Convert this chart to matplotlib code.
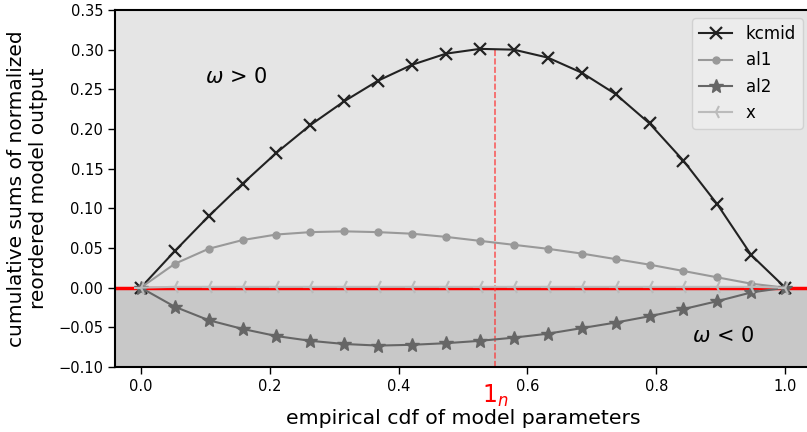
import matplotlib
matplotlib.use("Agg")
import matplotlib.pyplot as plt
import matplotlib.transforms as mtransforms
import numpy as np

# empirical cdf positions (20 points)
cdf = [0.0, 0.0526, 0.1053, 0.1579, 0.2105, 0.2632, 0.3158, 0.3684, 0.4211, 0.4737,
       0.5263, 0.5789, 0.6316, 0.6842, 0.7368, 0.7895, 0.8421, 0.8947, 0.9474, 1.0]

kcmid = [0.0, 0.046, 0.090, 0.131, 0.170, 0.205, 0.235, 0.261, 0.281, 0.295,
         0.301, 0.300, 0.290, 0.271, 0.244, 0.207, 0.160, 0.105, 0.041, 0.0]
al1 = [0.0, 0.030, 0.049, 0.060, 0.067, 0.070, 0.071, 0.070, 0.068, 0.064,
       0.059, 0.054, 0.049, 0.043, 0.036, 0.029, 0.021, 0.013, 0.005, 0.0]
al2 = [0.0, -0.024, -0.041, -0.052, -0.061, -0.067, -0.071, -0.073, -0.072, -0.070,
       -0.067, -0.063, -0.058, -0.051, -0.044, -0.036, -0.027, -0.017, -0.006, 0.0]
xpar = [0.0, 0.001, 0.001, 0.001, 0.001, 0.001, 0.001, 0.001, 0.001, 0.001,
        0.001, 0.001, 0.001, 0.001, 0.001, 0.001, 0.001, 0.001, 0.001, 0.0]

one_n = 0.55  # position of the 1_n marker
yticks = [-0.10, -0.05, 0.00, 0.05, 0.10, 0.15, 0.20, 0.25, 0.30, 0.35]
xticks = [0.0, 0.2, 0.4, 0.6, 0.8, 1.0]

fig = plt.figure(figsize=(8.07, 4.32), dpi=100)
ax = fig.add_axes([115 / 807, 1 - 367 / 432, (811 - 115) / 807, (367 - 10) / 432])

ax.set_xlim(-0.04, 1.04)
ax.set_ylim(-0.10, 0.35)

# shaded regions
ax.axhspan(0, 0.35, color='#e5e5e5', zorder=0)
ax.axhspan(-0.10, 0, color='#c8c8c8', zorder=0)
ax.axhline(0, color='red', lw=2.5, zorder=1)

ax.plot(cdf, kcmid, color='#222222', marker='x', ms=9, mew=1.6, lw=1.5, label='kcmid', zorder=3)
ax.plot(cdf, al1, color='#999999', marker='o', ms=5, lw=1.5, label='al1', zorder=3)
ax.plot(cdf, al2, color='#666666', marker='*', ms=10, lw=1.5, label='al2', zorder=3)
ax.plot(cdf, xpar, color='#bbbbbb', marker='3', ms=10, mew=1.5, lw=1.5, label='x', zorder=3)

ax.plot([one_n, one_n], [-0.10, max(kcmid)], color='#ff3030', alpha=0.8, lw=1.1,
        dashes=(4, 1.5), zorder=2)

ax.text(0.1, 0.265, r'$\omega$ > 0', fontsize=15, va='center')
ax.text(0.855, -0.061, r'$\omega$ < 0', fontsize=15, va='center')

trans = mtransforms.blended_transform_factory(ax.transData, ax.transAxes)
ax.text(one_n, -0.045, r'$1_n$', color='red', fontsize=17, ha='center', va='top', transform=trans)

ax.set_xticks(xticks)
ax.set_yticks(yticks)
ax.set_xticklabels(['%.1f' % t for t in xticks])
ax.set_yticklabels(['%.2f' % t if t >= 0 else '\u22120.%02d' % round(-t * 100) for t in yticks])
ax.tick_params(labelsize=10.5, length=5, width=1)

for side in ['left', 'bottom', 'top']:
    ax.spines[side].set_linewidth(1.5)
ax.spines['right'].set_visible(False)

ax.set_xlabel('empirical cdf of model parameters', fontsize=14.7, labelpad=11)
ax.set_ylabel('cumulative sums of normalized\nreordered model output', fontsize=14.5, labelpad=7)

ax.legend(loc='upper right', fontsize=12, facecolor='#efefef', edgecolor='#cccccc', framealpha=0.8)

fig.savefig('out.png', dpi=100)
